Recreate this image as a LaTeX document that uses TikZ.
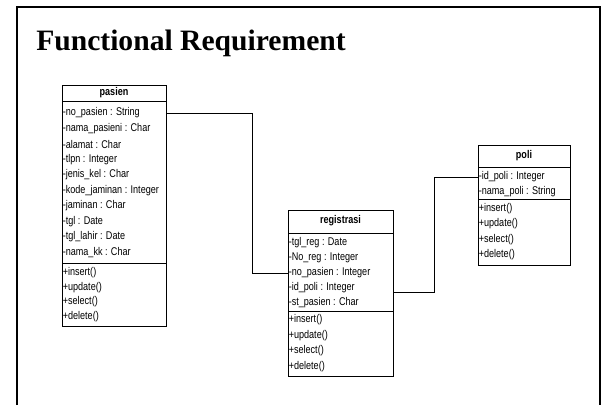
\documentclass[tikz,border=0pt]{standalone}
\usepackage{fontspec}
\setmainfont{Liberation Serif}
\newfontfamily\umlfont[FakeStretch=0.81]{Liberation Sans}
\usetikzlibrary{calc}
\begin{document}
\begin{tikzpicture}[x=0.75pt,y=-0.75pt,
  slideframe/.style={line width=1.5pt},
  classbox/.style={draw, line width=0.75pt, anchor=north west, inner sep=0pt},
  classname/.style={inner sep=0pt, font=\umlfont\bfseries\fontsize{8.4pt}{9.5pt}\selectfont},
  member/.style={anchor=west, inner sep=0pt, font=\umlfont\fontsize{8.4pt}{9.5pt}\selectfont},
  rule/.style={line width=0.75pt},
  link/.style={line width=0.75pt}]
\useasboundingbox (0,0) rectangle (605,405);

% slide frame, open at the bottom
\draw[slideframe] (17,405) -- (17,7) -- (600,7) -- (600,405);
\node[anchor=base west, inner sep=0pt, font=\bfseries\fontsize{22.2pt}{26pt}\selectfont]
  (title) at (36,50) {Functional Requirement};

% ---- class pasien ----
\node[classbox, minimum width=78pt, minimum height=180.75pt] (pasien) at (62,85) {};
\node[classname] (pname) at (114,93) {pasien};
\draw[rule] (pasien.west |- 0,101) -- (pasien.east |- 0,101);
\node[member] (p1)  at (62.5,113)   {-no\_pasien : String};
\node[member] (p2)  at (62.5,128.5) {-nama\_pasieni : Char};
\node[member] (p3)  at (62.5,144)   {-alamat : Char};
\node[member] (p4)  at (62.5,159.5) {-tlpn : Integer};
\node[member] (p5)  at (62.5,175)   {-jenis\_kel : Char};
\node[member] (p6)  at (62.5,190.5) {-kode\_jaminan : Integer};
\node[member] (p7)  at (62.5,206)   {-jaminan : Char};
\node[member] (p8)  at (62.5,221.5) {-tgl : Date};
\node[member] (p9)  at (62.5,237)   {-tgl\_lahir : Date};
\node[member] (p10) at (62.5,252.5) {-nama\_kk : Char};
\draw[rule] (pasien.west |- 0,263) -- (pasien.east |- 0,263);
\node[member] (pm1) at (62.5,273)   {+insert()};
\node[member] (pm2) at (62.5,287.5) {+update()};
\node[member] (pm3) at (62.5,302)   {+select()};
\node[member] (pm4) at (62.5,316.5) {+delete()};

% ---- class registrasi ----
\node[classbox, minimum width=78.75pt, minimum height=124.5pt] (reg) at (288,210) {};
\node[classname] (rname) at (340.5,221) {registrasi};
\draw[rule] (reg.west |- 0,233) -- (reg.east |- 0,233);
\node[member] (r1) at (288.5,243) {-tgl\_reg : Date};
\node[member] (r2) at (288.5,258) {-No\_reg : Integer};
\node[member] (r3) at (288.5,273) {-no\_pasien : Integer};
\node[member] (r4) at (288.5,288) {-id\_poli : Integer};
\node[member] (r5) at (288.5,303) {-st\_pasien : Char};
\draw[rule] (reg.west |- 0,311) -- (reg.east |- 0,311);
\node[member] (rm1) at (288.5,320)   {+insert()};
\node[member] (rm2) at (288.5,335.5) {+update()};
\node[member] (rm3) at (288.5,351)   {+select()};
\node[member] (rm4) at (288.5,366.5) {+delete()};

% ---- class poli ----
\node[classbox, minimum width=69pt, minimum height=90pt] (poli) at (478,145) {};
\node[classname] (qname) at (524,156) {poli};
\draw[rule] (poli.west |- 0,167) -- (poli.east |- 0,167);
\node[member] (q1) at (478.5,177)   {-id\_poli : Integer};
\node[member] (q2) at (478.5,191.5) {-nama\_poli : String};
\draw[rule] (poli.west |- 0,199) -- (poli.east |- 0,199);
\node[member] (qm1) at (478.5,208.5) {+insert()};
\node[member] (qm2) at (478.5,224)   {+update()};
\node[member] (qm3) at (478.5,239.5) {+select()};
\node[member] (qm4) at (478.5,255)   {+delete()};

% ---- associations ----
\coordinate (bend1) at (252,0);
\coordinate (bend2) at (434.5,0);
\draw[link] (pasien.east |- p1) -| (bend1 |- r3) -- (reg.west |- r3);
\draw[link] ($(reg.east |- r4)+(0,4)$) -| (bend2 |- q1) -- (poli.west |- q1);
\end{tikzpicture}
\end{document}
